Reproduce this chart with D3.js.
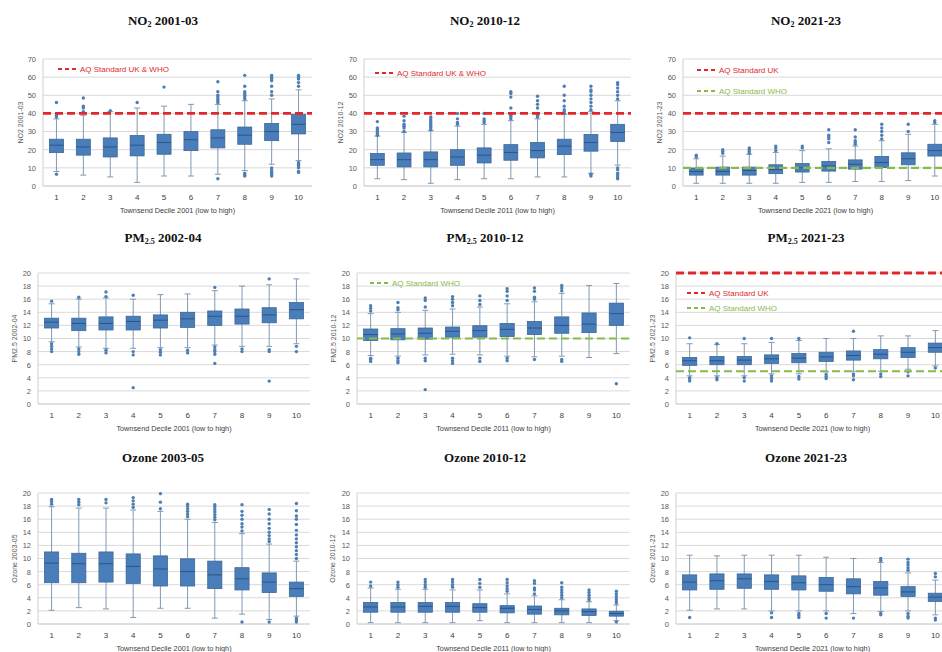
<!DOCTYPE html>
<html><head><meta charset="utf-8">
<script src="https://cdn.jsdelivr.net/npm/d3@7"></script>
<style>body{margin:0;background:#fff}svg{display:block}</style>
</head><body>
<svg id="c" width="942" height="652"></svg>
<script>
const deciles = ["1","2","3","4","5","6","7","8","9","10"];
const no2Ticks = [0,10,20,30,40,50,60,70];
const pmTicks = [0,2,4,6,8,10,12,14,16,18,20];
const o3Ticks = [0,2,4,6,8,10,12,14,16,18,20];

// [whisker low, Q1, median, Q3, whisker high]
const no2_0103_box = [[8,18.4,22.5,25.8,37],[6,17,21.5,25.8,39],[5,16,21.5,26.5,41],[2,16.6,22.5,27.8,43],[5.5,17.5,24,28.5,44],[5.5,19.5,25.5,30,45],[6.5,21,26.5,31,45],[8.5,23,28,32.5,47],[12,25,30,34.5,48],[14,28.7,34,39.5,53]];
const no2_0103_out = [[6.5,38,39,46],[41,43,44,48.5],[41.5],[46],[54.5],[],[4,46,47,48,49,50,52,57.5],[5.5,6,7,48,49,50,51,52,55,61],[5.5,6,7,8,9,10,50,52,55,58,59,60,61],[7.5,8,10,11,12,13,55,57,59,60,61]];

const no2_1012_box = [[4,11.4,14.5,17.9,27.5],[3.5,10.5,14.5,18.2,29.5],[1.5,10.5,14.5,18.8,30.5],[3.5,11.4,16,20,33],[4,12.7,17,21,34],[4,14.2,18.5,22.8,36],[5,15.5,19.5,24,37],[5,17.3,22,25.8,39.5],[7,19.2,24,28.4,41],[11.5,24.5,29.5,34,47]];
const no2_1012_out = [[28,29,30,31,32,35.5],[30,32,33,34,36,38.5],[31,32,33,34,35,36,37,38],[34,35,37,40],[35,36,37,40],[37,38,39,40,43,49,51,52],[38,39,40,43,45,47,49.5],[40,41,42,44,47,50,55],[5.5,6.5,42,44,46,48,50,52,53,55],[4,5,6,7,9,10,48,50,52,54,56,57]];

const no2_2123_box = [[1.5,6,8,9.9,15],[1.5,6,8,10.4,16.5],[1.5,6,8.5,10.4,17.5],[1.5,6.8,9,11.7,18.5],[2,7.7,10,12.4,19.5],[2,8.2,11,13.5,20.5],[2.5,9.3,12,14.4,22],[2.5,10.2,13,16.3,25],[3,11.7,15,18.3,28.5],[5.5,16.5,19.5,23,34]];
const no2_2123_out = [[16,17],[18,19,20],[18,19,20,21],[19.5,21,22],[21,22],[24,26,27,28,31],[23,24,25,27,31],[26,28,30,32,34],[30,34],[35,36]];

const pm_0204_box = [[9.5,11.6,12.5,13.1,15.3],[8.7,11.2,12.3,13.1,16],[8.5,11.3,12.3,13.3,16.2],[8.5,11.3,12.6,13.4,16],[8.6,11.6,12.8,13.6,16.7],[8.6,11.7,13,14,16.8],[9,12,13.4,14.2,17.3],[8.8,12.2,13.4,14.5,18],[8.8,12.4,13.6,14.7,18.2],[9.2,13,14.4,15.5,19.1]];
const pm_0204_out = [[8,8.4,8.8,9.2,15.7],[7.6,8,8.4,16.3],[7.8,8.2,16.4,17.1],[2.5,7.5,8,16.6],[7.5,7.9,8.3],[7.8,8.2],[6.2,7.6,8,8.3,8.7,17.8],[8,8.4],[3.5,8,8.3,19.1],[8,8.8]];

const pm_1012_box = [[7.4,9.7,10.6,11.45,13.8],[7.3,9.8,10.7,11.5,14],[7.5,9.9,10.8,11.6,14.3],[7.6,10.2,11.1,11.75,14.5],[7.5,10.2,11.2,11.95,14.8],[7.3,10.3,11.4,12.3,15.3],[7.2,10.6,11.6,12.6,15.6],[7.3,10.8,12,13.3,16.9],[7.1,10.9,12.2,13.9,18.1],[7.7,12,13.8,15.4,18.4]];
const pm_1012_out = [[6.5,6.8,7,14.2,14.6,15],[6.3,6.6,7,14.4,14.7,15.5],[2.2,6.6,7,14.8,15.8,16.2],[6.2,6.6,7,15,15.5,16,16.4],[6.5,7,15.2,15.8,16.5],[6.6,7,15.8,16.5,17.2,17.6],[6.8,16,16.3,17.2,17.7],[6.5,6.8,17.3,17.7,18.1],[],[3.1]];

const pm_2123_box = [[4.3,5.9,6.6,7.1,9.2],[4.3,6,6.6,7.25,9.1],[4.3,6,6.7,7.25,9.2],[4.6,6.2,6.9,7.5,9.4],[4.6,6.3,7,7.7,9.7],[4.9,6.5,7.2,7.9,10],[5,6.7,7.4,8.1,10],[5,6.9,7.6,8.3,10.4],[5.3,7.1,7.9,8.6,10.4],[5.8,7.9,8.6,9.3,11.2]];
const pm_2123_out = [[3.5,3.8,4,10.1],[3.7,4,9.2],[3.5,4,10],[3.5,3.9,4.3,10],[3.8,4.2,10],[3.9,4.2,4.5],[3.7,4.3,4.6,11.1],[4.2,4.6],[4.3,4.9],[5.5]];

const o3_0305_box = [[2.1,6.3,9.3,11,17.9],[2.5,6.3,9.2,10.8,17.7],[2.3,6.4,9.2,11,17.7],[1,6.2,8.8,10.7,17.4],[2.4,5.8,8.4,10.4,17.2],[2.4,5.8,8,9.95,16],[0.9,5.4,7.5,9.6,15.5],[1.5,5.2,6.9,8.6,13.8],[0.7,4.8,6.4,7.8,12.2],[1.2,4.2,5.4,6.4,9.6]];
const o3_0305_out = [[18.3,18.7,19],[18.2,18.6,19],[18.5,19],[17.8,18.3,18.8,19.3],[17.6,18.6,19.9],[16.4,16.8,17.2,17.6,18,18.3],[15.9,16.3,16.7,17.1,17.5,17.9,18.2],[0.3,14.2,14.8,15.3,16,16.6,17.2,18.2],[0.3,12.6,13,13.5,14,14.6,15.3,16,16.8,17.5],[0.3,0.6,0.9,10,10.6,11.2,11.8,12.4,13,13.6,14.3,15.2,16,16.5,17.3,18.4]];

const o3_1012_box = [[0.2,1.8,2.6,3.3,5.5],[0.2,1.8,2.6,3.3,5.3],[0.2,1.8,2.7,3.3,5.3],[0.2,1.8,2.7,3.3,5.2],[0.5,1.8,2.5,3.1,5.2],[0.2,1.7,2.4,2.8,4.6],[0.2,1.5,2.2,2.75,4.3],[0.2,1.4,2,2.4,3.7],[0.2,1.3,1.9,2.3,3.4],[0.5,1.2,1.6,1.95,2.9]];
const o3_1012_out = [[5.8,6.4],[5.6,6,6.4],[5.6,6,6.4,6.8],[5.6,6,6.4,6.8],[5.6,6.2,6.8],[5,5.4,5.8,6.3,6.8],[4.6,5.2,5.5,6.2,6.6],[4,4.4,4.8,5.2,5.6,6.3],[3.7,4,4.4,4.8,5.2],[0.3,3.2,3.5,3.8,4.2,4.6,5]];

const o3_2123_box = [[2.1,5.2,6.4,7.5,10.5],[2.3,5.3,6.6,7.65,10.4],[2.3,5.45,6.9,7.65,10.5],[2,5.3,6.5,7.5,10.5],[2,5.2,6.3,7.35,10.5],[2,5,6,7.1,10.2],[1.6,4.6,5.7,6.9,10],[1.9,4.4,5.5,6.5,9.4],[2,4.2,4.9,5.7,7.8],[1.4,3.45,4.1,4.7,6.7]];
const o3_2123_out = [[1],[],[],[1,1.7],[1,1.3,1.6],[0.9,1.6],[0.9],[1.4,1.6,9.7,10],[0.9,1.2,1.6,8.2,8.6,9,9.4,9.9],[0.6,0.9,7.2,7.7]];

const RED = "#e0282c", GREEN = "#86bb48";

const panels = [
 {t:["NO","2"," 2001-03"], yl:"NO2 2001-03", xl:"Townsend Decile 2001 (low to high)", box:no2_0103_box, out:no2_0103_out, ticks:no2Ticks, max:70,
  x0:43, x1:312, y0:59, y1:186, tx:163, ty:25, ylx:21,
  lines:[{v:40,c:RED}], leg:[{s:"AQ Standard UK & WHO",c:RED,x:58,y:69}]},
 {t:["NO","2"," 2010-12"], yl:"NO2 2010-12", xl:"Townsend Decile 2011 (low to high)", box:no2_1012_box, out:no2_1012_out, ticks:no2Ticks, max:70,
  x0:364, x1:631, y0:59, y1:186, tx:485, ty:25, ylx:341,
  lines:[{v:40,c:RED}], leg:[{s:"AQ Standard UK & WHO",c:RED,x:375,y:73}]},
 {t:["NO","2"," 2021-23"], yl:"NO2 2021-23", xl:"Townsend Decile 2021 (low to high)", box:no2_2123_box, out:no2_2123_out, ticks:no2Ticks, max:70,
  x0:683, x1:948, y0:59, y1:186, tx:806, ty:25, ylx:660,
  lines:[{v:40,c:RED},{v:10,c:GREEN}], leg:[{s:"AQ Standard UK",c:RED,x:697,y:70},{s:"AQ Standard WHO",c:GREEN,x:697,y:91}]},
 {t:["PM","2.5"," 2002-04"], yl:"PM2.5 2002-04", xl:"Townsend Decile 2001 (low to high)", box:pm_0204_box, out:pm_0204_out, ticks:pmTicks, max:20,
  x0:38, x1:310, y0:273, y1:404, tx:163, ty:242, ylx:15, lines:[], leg:[]},
 {t:["PM","2.5"," 2010-12"], yl:"PM2.5 2010-12", xl:"Townsend Decile 2011 (low to high)", box:pm_1012_box, out:pm_1012_out, ticks:pmTicks, max:20,
  x0:357, x1:630, y0:273, y1:404, tx:485, ty:242, ylx:334,
  lines:[{v:10,c:GREEN}], leg:[{s:"AQ Standard WHO",c:GREEN,x:370,y:283}]},
 {t:["PM","2.5"," 2021-23"], yl:"PM2.5 2021-23", xl:"Townsend Decile 2021 (low to high)", box:pm_2123_box, out:pm_2123_out, ticks:pmTicks, max:20,
  x0:676, x1:949, y0:273, y1:404, tx:806, ty:242, ylx:653,
  lines:[{v:20,c:RED},{v:5,c:GREEN}], leg:[{s:"AQ Standard UK",c:RED,x:687,y:293},{s:"AQ Standard WHO",c:GREEN,x:687,y:308}]},
 {t:["Ozone 2003-05"], yl:"Ozone 2003-05", xl:"Townsend Decile 2001 (low to high)", box:o3_0305_box, out:o3_0305_out, ticks:o3Ticks, max:20,
  x0:38, x1:310, y0:493, y1:624, tx:163, ty:462, ylx:15, lines:[], leg:[]},
 {t:["Ozone 2010-12"], yl:"Ozone 2010-12", xl:"Townsend Decile 2011 (low to high)", box:o3_1012_box, out:o3_1012_out, ticks:o3Ticks, max:20,
  x0:357, x1:630, y0:493, y1:624, tx:485, ty:462, ylx:333, lines:[], leg:[]},
 {t:["Ozone 2021-23"], yl:"Ozone 2021-23", xl:"Townsend Decile 2021 (low to high)", box:o3_2123_box, out:o3_2123_out, ticks:o3Ticks, max:20,
  x0:676, x1:949, y0:493, y1:624, tx:806, ty:462, ylx:653, lines:[], leg:[]}
];

const svg = d3.select("#c");
const SANS = "'Liberation Sans', Arial, sans-serif";
const BOXF = "#4a7ebb", BOXS = "#3b6796", WH = "#8099b3", MED = "#2c5486", DOT = "#4d7fb3";

panels.forEach(p => {
  const g = svg.append("g");
  const x = d3.scaleBand().domain(deciles).range([p.x0, p.x1]).paddingInner(0).paddingOuter(0);
  const y = d3.scaleLinear().domain([0, p.max]).range([p.y1, p.y0]);
  const bw = x.bandwidth() * 0.52;

  // title
  const tt = g.append("text").attr("x", p.tx).attr("y", p.ty).attr("text-anchor","middle")
    .attr("font-family","'Liberation Serif','Times New Roman',serif").attr("font-weight","bold").attr("font-size",13).attr("fill","#111");
  tt.append("tspan").text(p.t[0]);
  if (p.t.length > 1) {
    tt.append("tspan").attr("font-size",8).attr("dy",2).text(p.t[1]);
    tt.append("tspan").attr("dy",-2).text(p.t[2]);
  }

  // gridlines
  g.selectAll(".grid").data(p.ticks).join("line")
    .attr("x1", p.x0).attr("x2", p.x1).attr("y1", d => y(d)).attr("y2", d => y(d))
    .attr("stroke", d => d === 0 ? "#bfbfbf" : "#d9d9d9").attr("stroke-width", 1);
  g.append("line").attr("x1",p.x0).attr("x2",p.x0).attr("y1",p.y0).attr("y2",p.y1).attr("stroke","#d0d0d0");

  // y axis
  const ya = d3.axisLeft(y).tickValues(p.ticks).tickSize(0).tickPadding(7);
  const yg = g.append("g").attr("transform",`translate(${p.x0},0)`).call(ya);
  yg.select(".domain").remove();
  yg.selectAll("text").attr("font-family",SANS).attr("font-size",7.5).attr("fill","#595959");

  // x axis
  const xa = d3.axisBottom(x).tickSize(0).tickPadding(8);
  const xg = g.append("g").attr("transform",`translate(0,${p.y1})`).call(xa);
  xg.select(".domain").remove();
  xg.selectAll("text").attr("font-family",SANS).attr("font-size",8).attr("fill","#404040");

  // axis titles
  g.append("text").attr("transform",`translate(${p.ylx},${(p.y0+p.y1)/2}) rotate(-90)`)
    .attr("text-anchor","middle").attr("dy","0.35em").attr("font-family",SANS).attr("font-size",7).attr("fill","#595959").text(p.yl);
  g.append("text").attr("x",(p.x0+p.x1)/2).attr("y",p.y1+27).attr("text-anchor","middle")
    .attr("font-family",SANS).attr("font-size",7.3).attr("fill","#404040").text(p.xl);

  // boxes
  const bx = g.selectAll(".bx").data(p.box.map((b,i)=>({b, k:deciles[i], o:p.out[i]}))).join("g");
  bx.append("line").attr("x1",d=>x(d.k)+x.bandwidth()/2).attr("x2",d=>x(d.k)+x.bandwidth()/2)
    .attr("y1",d=>y(d.b[0])).attr("y2",d=>y(d.b[1])).attr("stroke",WH).attr("stroke-width",1);
  bx.append("line").attr("x1",d=>x(d.k)+x.bandwidth()/2).attr("x2",d=>x(d.k)+x.bandwidth()/2)
    .attr("y1",d=>y(d.b[3])).attr("y2",d=>y(d.b[4])).attr("stroke",WH).attr("stroke-width",1);
  [0,4].forEach(j => {
    bx.append("line").attr("x1",d=>x(d.k)+x.bandwidth()/2-3).attr("x2",d=>x(d.k)+x.bandwidth()/2+3)
      .attr("y1",d=>y(d.b[j])).attr("y2",d=>y(d.b[j])).attr("stroke",WH).attr("stroke-width",1);
  });
  bx.append("rect").attr("x",d=>x(d.k)+(x.bandwidth()-bw)/2).attr("width",bw)
    .attr("y",d=>y(d.b[3])).attr("height",d=>y(d.b[1])-y(d.b[3]))
    .attr("fill",BOXF).attr("stroke",BOXS).attr("stroke-width",0.8);
  bx.append("line").attr("x1",d=>x(d.k)+(x.bandwidth()-bw)/2).attr("x2",d=>x(d.k)+(x.bandwidth()+bw)/2)
    .attr("y1",d=>y(d.b[2])).attr("y2",d=>y(d.b[2])).attr("stroke",MED).attr("stroke-width",1);
  bx.each(function(d){
    d3.select(this).selectAll("circle").data(d.o).join("circle")
      .attr("cx", x(d.k)+x.bandwidth()/2).attr("cy", v=>y(v)).attr("r",1.7).attr("fill",DOT);
  });

  // standard lines
  p.lines.forEach(l => {
    g.append("line").attr("x1",p.x0).attr("x2",p.x1).attr("y1",y(l.v)).attr("y2",y(l.v))
      .attr("stroke",l.c).attr("stroke-width", l.c===RED?2.8:2.2).attr("stroke-dasharray","8,4");
  });
  // legend
  p.leg.forEach(l => {
    g.append("line").attr("x1",l.x).attr("x2",l.x+19).attr("y1",l.y).attr("y2",l.y)
      .attr("stroke",l.c).attr("stroke-width",2).attr("stroke-dasharray","4,3");
    g.append("text").attr("x",l.x+22).attr("y",l.y).attr("dy","0.35em").attr("font-family",SANS)
      .attr("font-size",8).attr("fill",l.c).text(l.s);
  });
});
</script>
</body></html>
